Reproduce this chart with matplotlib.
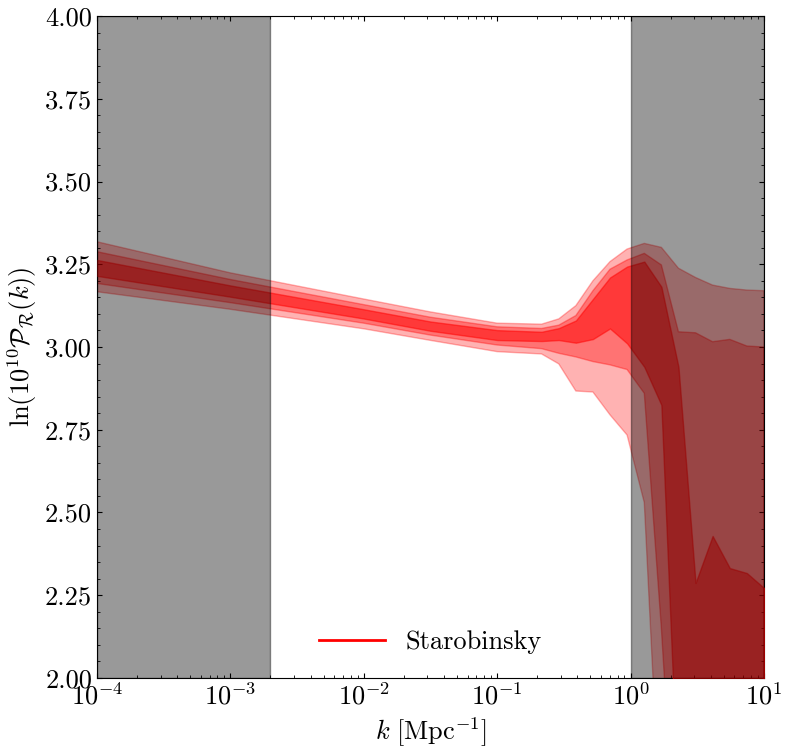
import numpy as np
import matplotlib
matplotlib.use("Agg")
import matplotlib.pyplot as plt
from matplotlib.lines import Line2D
from matplotlib.ticker import MultipleLocator, FormatStrFormatter

plt.rcParams['font.family'] = 'serif'
plt.rcParams['font.serif'] = ['cmr10']
plt.rcParams['mathtext.fontset'] = 'cm'
plt.rcParams['axes.formatter.use_mathtext'] = True
plt.rcParams['axes.unicode_minus'] = False

# log10 of k [Mpc^-1] where the bands were read
log_k = [-4.0, -3.0, -2.0, -1.5, -1.0, -0.667, -0.538, -0.410, -0.282, -0.154,
         -0.026, 0.103, 0.231, 0.359, 0.487, 0.615, 0.744, 0.872, 1.0]

# outer band (2 sigma)
upper_2 = [3.318, 3.224, 3.145, 3.106, 3.072, 3.069, 3.085, 3.125, 3.200, 3.258,
           3.296, 3.313, 3.301, 3.238, 3.210, 3.187, 3.177, 3.172, 3.170]
lower_2 = [3.167, 3.114, 3.055, 3.020, 2.986, 2.979, 2.949, 2.867, 2.864, 2.795,
           2.734, 2.530, 1.490, 1.000, 1.000, 1.000, 1.000, 1.000, 1.000]

# middle band (1 sigma)
upper_1 = [3.288, 3.204, 3.128, 3.090, 3.061, 3.056, 3.066, 3.095, 3.170, 3.235,
           3.263, 3.283, 3.248, 3.046, 3.043, 3.016, 3.023, 3.003, 3.000]
lower_1 = [3.192, 3.134, 3.072, 3.036, 3.006, 2.995, 2.981, 2.970, 2.956, 2.946,
           2.932, 2.860, 2.150, 1.300, 1.000, 1.000, 1.000, 1.000, 1.000]

# inner band
upper_0 = [3.263, 3.186, 3.114, 3.077, 3.051, 3.046, 3.057, 3.080, 3.145, 3.210,
           3.243, 3.258, 3.182, 2.940, 2.287, 2.429, 2.332, 2.317, 2.272]
lower_0 = [3.215, 3.152, 3.086, 3.049, 3.021, 3.018, 3.021, 3.013, 3.024, 3.056,
           3.011, 2.940, 2.825, 1.600, 1.000, 1.000, 1.000, 1.000, 1.000]

excluded = [(1e-4, 2e-3), (1.0, 10.0)]

k = 10 ** np.array(log_k)

fig = plt.figure(figsize=(7.88, 7.55), dpi=100)
ax = fig.add_axes([0.123, 0.102, 0.8465, 0.8768])

ax.fill_between(k, lower_2, upper_2, facecolor='red', edgecolor='red',
                alpha=0.3, lw=1, zorder=1)
ax.fill_between(k, lower_1, upper_1, facecolor='red', edgecolor='red',
                alpha=0.35, lw=1, zorder=2)
ax.fill_between(k, lower_0, upper_0, facecolor='red', edgecolor='red',
                alpha=0.5, lw=1, zorder=3)

for lo, hi in excluded:
    ax.axvspan(lo, hi, facecolor='k', edgecolor='k', alpha=0.4, lw=1, zorder=4)

ax.set_xscale('log')
ax.set_xlim(1e-4, 10)
ax.set_ylim(2.0, 4.0)
ax.yaxis.set_major_locator(MultipleLocator(0.25))
ax.yaxis.set_minor_locator(MultipleLocator(0.05))
ax.yaxis.set_major_formatter(FormatStrFormatter('%.2f'))
ax.tick_params(which='both', direction='in', top=True, right=True, labelsize=19)

ax.set_xlabel(r'$k\ [\mathrm{Mpc}^{-1}]$', fontsize=19)
ax.set_ylabel(r'$\ln(10^{10}\mathcal{P}_\mathcal{R}(k))$', fontsize=19)

handle = Line2D([], [], color='red', lw=2)
ax.legend([handle], ['Starobinsky'], loc='lower center', frameon=False,
          fontsize=19, handlelength=2.5)

fig.savefig('out.png', dpi=100)
